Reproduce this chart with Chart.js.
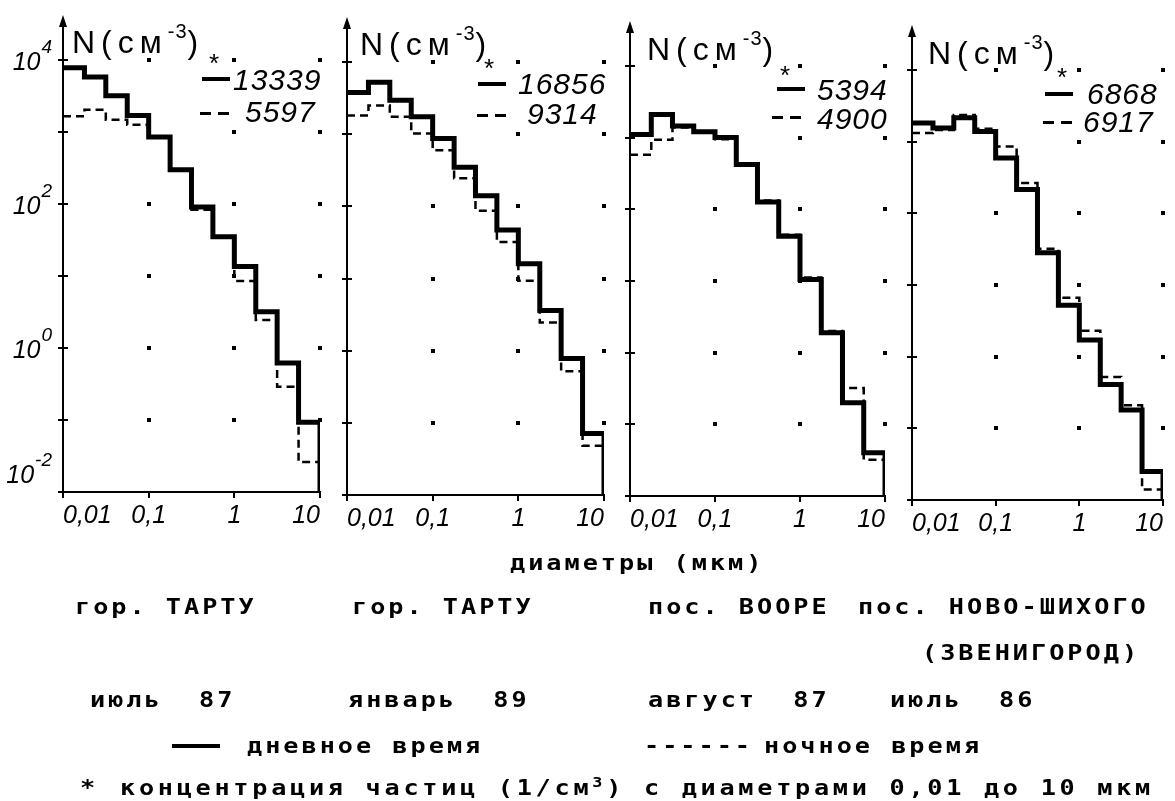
<!DOCTYPE html>
<html lang="ru">
<head>
  <meta charset="UTF-8">
  <title>Распределение частиц по размерам</title>
  <script src="https://cdn.jsdelivr.net/npm/chart.js"></script>
  <style>
    body { margin: 0; background: #fff; }
    #wrap { position: relative; width: 1175px; height: 801px; overflow: hidden; }
    #wrap canvas { position: absolute; left: 0; top: 0; }
    .hand {
      position: absolute;
      font-family: "Liberation Sans", Arial, sans-serif;
      font-style: italic;
      color: #000;
      line-height: 1;
      white-space: nowrap;
    }
    .nlab { font-style: normal; font-size: 32px; letter-spacing: 6px; }
    .nlab .sup { font-size: 20px; position: relative; top: -15px; letter-spacing: 1px; }
    .num { font-size: 30px; letter-spacing: 1px; }
    .star { font-size: 26px; font-style: normal; }
    .sol { position: absolute; height: 4px; background: #000; }
    .dsh { position: absolute; height: 3px; background: repeating-linear-gradient(90deg, #000 0 11px, transparent 11px 18px); }
    .print {
      position: absolute;
      font-family: "DejaVu Sans Mono", monospace;
      font-size: 21px;
      font-weight: bold;
      letter-spacing: 2.5px;
      line-height: 1;
      white-space: pre;
      color: #000;
      transform: scaleX(1.2);
      transform-origin: left top;
    }
    .print sup { font-size: 14px; line-height: 0; }
  </style>
</head>
<body>
  <div id="wrap">
    <div class="print" style="left:510px;top:553px">диаметры (мкм)</div>

    <div class="print" style="left:75px;top:597px">гор. ТАРТУ</div>
    <div class="print" style="left:352px;top:597px">гор. ТАРТУ</div>
    <div class="print" style="left:648px;top:597px">пос. ВООРЕ</div>
    <div class="print" style="left:858px;top:597px">пос. НОВО-ШИХОГО</div>
    <div class="print" style="left:922px;top:643px">(ЗВЕНИГОРОД)</div>

    <div class="print" style="left:90px;top:690px">июль  87</div>
    <div class="print" style="left:348px;top:690px">январь  89</div>
    <div class="print" style="left:648px;top:690px">август  87</div>
    <div class="print" style="left:890px;top:690px">июль  86</div>

    <div class="sol" style="left:172px;top:744px;width:48px"></div>
    <div class="print" style="left:247px;top:736px">дневное время</div>
    <div class="print" style="left:644px;top:736px">------</div>
    <div class="print" style="left:764px;top:736px">ночное время</div>

    <div class="print" style="left:80px;top:778px">*</div>
    <div class="print" style="left:120px;top:778px;letter-spacing:3.1px">концентрация частиц (1/см<sup>3</sup>) с диаметрами 0,01 до 10 мкм</div>
  </div>

  <script>
    // size bins (мкм), 4 per decade
    const binEdges = [0.01, 0.0178, 0.0316, 0.0562, 0.1, 0.178, 0.316, 0.562, 1, 1.78, 3.16, 5.62, 10];

    const xTickValues = [0.01, 0.1, 1, 10];
    const xTickLabels = ['0,01', '0,1', '1', '10'];
    const yTickValues = [0.01, 0.1, 1, 10, 100, 1000, 10000];
    const yLabelValues = [10000, 100, 1, 0.01];
    const yLabelExps = ['4', '2', '0', '-2'];
    const yMin = 0.01;
    const yMax = 31623;

    // N (cm^-3) per bin
    const tartuJul87Day   = [7800, 5800, 3200, 1700, 850, 300, 91, 35, 13.5, 3.2, 0.62, 0.093];
    const tartuJul87Night = [1660, 2040, 1480, 1260, 830, 290, 83, 35, 8.5, 2.45, 0.29, 0.026];
    const tartuJan89Day   = [3800, 5250, 2950, 1740, 870, 350, 140, 47, 16, 3.6, 0.78, 0.071];
    const tartuJan89Night = [1820, 2500, 1740, 1020, 600, 245, 87, 32, 9.3, 2.45, 0.52, 0.048];
    const voorAug87Day    = [1100, 2100, 1450, 1200, 1000, 420, 126, 42, 10.5, 1.9, 0.2, 0.04];
    const voorAug87Night  = [575, 930, 1380, 1170, 950, 430, 132, 44, 11.2, 2.0, 0.32, 0.032];
    const novoJul86Day    = [1820, 1550, 2140, 1380, 590, 214, 28, 5.2, 1.7, 0.41, 0.18, 0.025];
    const novoJul86Night  = [1320, 1450, 2340, 1510, 850, 263, 32, 6.6, 2.3, 0.52, 0.21, 0.014];

    // total concentration 0.01-10 мкм
    const dayTotals = [13339, 16856, 5394, 6868];
    const nightTotals = [5597, 9314, 4900, 6917];

    const Y_AXIS_W = 40;
    const X_AXIS_H = 50;
    const W = 1175, H = 801;

    // where each panel sits on the page
    const panels = [
      { day: tartuJul87Day, night: tartuJul87Night, axisX: 63,  x10: 320,  top: 24, bottom: 492, yLabels: true,
        nX: 72,  nY: 26, starX: 209,  starY: 50, solX: 202,  solY: 77,  dayX: 233,  dayY: 65,  dshX: 200,  dshY: 112, nightX: 245,  nightY: 97 },
      { day: tartuJan89Day, night: tartuJan89Night, axisX: 347, x10: 604,  top: 26, bottom: 495, yLabels: false,
        nX: 360, nY: 28, starX: 484,  starY: 55, solX: 478,  solY: 82,  dayX: 518,  dayY: 69,  dshX: 477,  dshY: 114, nightX: 527,  nightY: 99 },
      { day: voorAug87Day, night: voorAug87Night, axisX: 630, x10: 885,  top: 30, bottom: 496, yLabels: false,
        nX: 647, nY: 33, starX: 780,  starY: 62, solX: 777,  solY: 87,  dayX: 817,  dayY: 75,  dshX: 772,  dshY: 116, nightX: 817,  nightY: 104 },
      { day: novoJul86Day, night: novoJul86Night, axisX: 912, x10: 1163, top: 34, bottom: 500, yLabels: false,
        nX: 928, nY: 37, starX: 1057, starY: 64, solX: 1045, solY: 92,  dayX: 1087, dayY: 79,  dshX: 1043, dshY: 121, nightX: 1083, nightY: 107 }
    ];

    function stepPoints(vals) {
      const pts = vals.map((v, i) => ({ x: binEdges[i], y: v }));
      const last = binEdges[binEdges.length - 1];
      pts.push({ x: last, y: vals[vals.length - 1] });
      pts.push({ x: last, y: yMin });
      return pts;
    }

    // dotted grid, axis arrow, crossing ticks and 10^n labels
    const decorPlugin = {
      id: 'decor',
      beforeDatasetsDraw(chart) {
        const { ctx, scales: { x, y } } = chart;
        ctx.save();
        ctx.fillStyle = '#000';
        x.ticks.slice(1).forEach(tx => {
          y.ticks.slice(1).forEach(ty => {
            const px = Math.round(x.getPixelForValue(tx.value));
            const py = Math.round(y.getPixelForValue(ty.value));
            ctx.fillRect(px - 2, py - 2, 4, 4);
          });
        });
        ctx.restore();
      },
      afterDraw(chart, args, opts) {
        const { ctx, chartArea, scales: { y } } = chart;
        const left = chartArea.left, top = chartArea.top;
        ctx.save();
        ctx.fillStyle = '#000';
        ctx.strokeStyle = '#000';
        ctx.beginPath();
        ctx.moveTo(left, top - 9);
        ctx.lineTo(left - 4, top + 3);
        ctx.lineTo(left + 4, top + 3);
        ctx.closePath();
        ctx.fill();

        // ticks cross the axis on the inner side too
        ctx.lineWidth = 2;
        y.ticks.slice(1).forEach(t => {
          const py = Math.round(y.getPixelForValue(t.value));
          ctx.beginPath();
          ctx.moveTo(left, py);
          ctx.lineTo(left + 5, py);
          ctx.stroke();
        });

        if (opts.yLabels) {
          ctx.textBaseline = 'alphabetic';
          yLabelValues.forEach((v, i) => {
            const py = y.getPixelForValue(v);
            const exp = yLabelExps[i];
            ctx.font = 'italic 19px "Liberation Sans"';
            const ew = ctx.measureText(exp).width;
            const baseRight = left - 12 - ew;
            const baseY = v === yMin ? py - 9 : py + 10;
            ctx.font = 'italic 25px "Liberation Sans"';
            ctx.textAlign = 'right';
            ctx.fillText('10', baseRight, baseY);
            ctx.font = 'italic 19px "Liberation Sans"';
            ctx.textAlign = 'left';
            ctx.fillText(exp, baseRight + 1, baseY - 17);
          });
        }
        ctx.restore();
      }
    };

    const wrap = document.getElementById('wrap');

    function makeChart(p) {
      const canvas = document.createElement('canvas');
      canvas.width = W;
      canvas.height = H;
      wrap.insertBefore(canvas, wrap.firstChild);

      return new Chart(canvas, {
        type: 'line',
        data: {
          datasets: [
            {
              label: 'дневное время',
              data: stepPoints(p.day),
              borderColor: '#000',
              borderWidth: 5,
              stepped: true,
              pointRadius: 0,
              fill: false
            },
            {
              label: 'ночное время',
              data: stepPoints(p.night),
              borderColor: '#000',
              borderWidth: 2.5,
              borderDash: [8, 5],
              stepped: true,
              pointRadius: 0,
              fill: false
            }
          ]
        },
        options: {
          responsive: false,
          animation: false,
          events: [],
          layout: {
            padding: {
              left: p.axisX - Y_AXIS_W,
              right: W - p.x10,
              top: p.top,
              bottom: H - p.bottom - X_AXIS_H
            }
          },
          plugins: {
            legend: { display: false },
            tooltip: { enabled: false },
            decor: { yLabels: p.yLabels }
          },
          scales: {
            x: {
              type: 'logarithmic',
              min: 0.01,
              max: 10,
              border: { color: '#000', width: 2 },
              grid: { drawOnChartArea: false, color: '#000', lineWidth: 2, tickLength: 6 },
              ticks: {
                autoSkip: false,
                maxRotation: 0,
                align: 'inner',
                color: '#000',
                padding: 3,
                font: { family: 'Liberation Sans', style: 'italic', size: 25 },
                callback: (v, i) => xTickLabels[i]
              },
              afterBuildTicks: s => { s.ticks = xTickValues.map(v => ({ value: v })); },
              afterFit: s => { s.height = X_AXIS_H; }
            },
            y: {
              type: 'logarithmic',
              min: yMin,
              max: yMax,
              border: { color: '#000', width: 2 },
              grid: { drawOnChartArea: false, color: '#000', lineWidth: 2, tickLength: 5 },
              ticks: { display: false },
              afterBuildTicks: s => { s.ticks = yTickValues.map(v => ({ value: v })); },
              afterFit: s => { s.width = Y_AXIS_W; }
            }
          }
        },
        plugins: [decorPlugin]
      });
    }

    function addText(cls, x, y, html) {
      const d = document.createElement('div');
      d.className = cls;
      d.style.left = x + 'px';
      d.style.top = y + 'px';
      d.innerHTML = html;
      wrap.appendChild(d);
    }

    function addBar(cls, x, y, w) {
      const d = document.createElement('div');
      d.className = cls;
      d.style.left = x + 'px';
      d.style.top = y + 'px';
      d.style.width = w + 'px';
      wrap.appendChild(d);
    }

    panels.forEach((p, i) => {
      makeChart(p);
      addText('hand nlab', p.nX, p.nY, 'N(см<span class="sup">-3</span>)');
      addText('hand star', p.starX, p.starY, '*');
      addBar('sol', p.solX, p.solY, 28);
      addText('hand num', p.dayX, p.dayY, String(dayTotals[i]));
      addBar('dsh', p.dshX, p.dshY, 30);
      addText('hand num', p.nightX, p.nightY, String(nightTotals[i]));
    });
  </script>
</body>
</html>
